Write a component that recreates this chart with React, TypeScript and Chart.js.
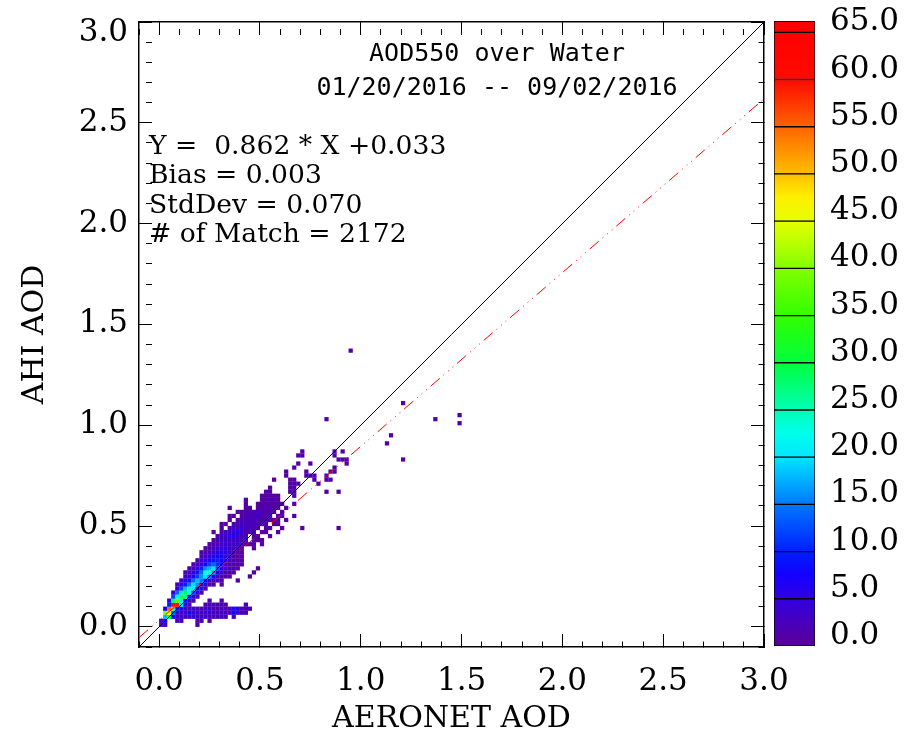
import React, { useEffect, useRef } from 'react';
import { Chart, registerables } from 'chart.js';
Chart.register(...registerables);

// ---------- data ----------
const X_MIN = -0.1;
const X_MAX = 3.0;
const Y_MIN = -0.1;
const Y_MAX = 3.0;
const BIN = 0.02;

// [AHI bin start, AERONET bin start of first cell, counts per consecutive 0.02 bin]
const HIST_ROWS: [number, number, number[]][] = [
  [0.00, 0.00, [2, 3, 0, 0, 0, 0, 0, 0, 0, 1]],
  [0.02, 0.00, [3, 6, 0, 0, 2, 2, 0, 0, 0, 1, 1, 0, 1]],
  [0.04, 0.02, [18, 30, 8, 3, 4, 2, 3, 5, 3, 4, 3, 2, 3, 2, 3, 2, 0, 2]],
  [0.06, 0.02, [40, 45, 14, 4, 3, 4, 8, 5, 4, 3, 5, 4, 3, 3, 2, 3, 2, 8, 3, 2, 2]],
  [0.08, 0.02, [8, 55, 25, 10, 6, 4, 3, 4, 3, 2, 3, 4, 2, 2, 3, 2, 3, 6, 7, 2, 3, 2]],
  [0.10, 0.04, [10, 63, 60, 20, 5, 2, 0, 0, 0, 2, 3, 2, 2, 2, 1, 0, 0, 0, 0, 2]],
  [0.12, 0.04, [6, 28, 38, 22, 8, 3, 2, 0, 0, 0, 2, 0, 0, 2]],
  [0.14, 0.06, [12, 22, 32, 25, 10, 4, 2]],
  [0.16, 0.06, [5, 14, 20, 30, 22, 12, 5, 2]],
  [0.18, 0.08, [6, 12, 18, 25, 20, 10, 4, 2]],
  [0.20, 0.08, [3, 6, 10, 15, 20, 16, 9, 4, 2, 1, 0, 1]],
  [0.22, 0.10, [3, 6, 9, 14, 18, 15, 9, 4, 2, 2, 1, 0, 0, 0, 1]],
  [0.24, 0.12, [3, 5, 8, 12, 16, 20, 14, 7, 3, 2, 1, 1, 0, 0, 0, 0, 1]],
  [0.26, 0.12, [2, 3, 5, 9, 14, 22, 24, 16, 8, 3, 2, 1, 1, 0, 0, 0, 0, 1]],
  [0.28, 0.14, [2, 3, 5, 10, 16, 18, 20, 12, 6, 3, 2, 2, 1, 0, 0, 0, 0, 1]],
  [0.30, 0.16, [2, 3, 5, 8, 12, 14, 11, 8, 4, 2, 1, 1, 1]],
  [0.32, 0.18, [2, 3, 5, 8, 9, 10, 8, 5, 3, 2, 1, 1]],
  [0.34, 0.20, [2, 3, 5, 6, 8, 7, 5, 3, 2, 1, 1]],
  [0.36, 0.20, [1, 2, 3, 4, 6, 6, 5, 4, 2, 1, 1]],
  [0.38, 0.22, [1, 2, 3, 4, 5, 5, 4, 3, 2, 1, 0, 0, 1]],
  [0.40, 0.24, [1, 2, 3, 3, 4, 4, 3, 3, 2, 2, 1, 1, 0, 1]],
  [0.42, 0.26, [1, 2, 3, 4, 3, 4, 3, 3, 2, 0, 1, 1, 1]],
  [0.44, 0.28, [2, 3, 4, 5, 6, 4, 3, 2, 0, 1, 1, 0, 0, 1]],
  [0.46, 0.26, [1, 0, 2, 3, 4, 5, 6, 4, 3, 2, 1, 0, 1, 1, 0, 0, 1]],
  [0.48, 0.30, [1, 0, 2, 3, 3, 4, 3, 2, 2, 1, 0, 1, 1, 0, 0, 1]],
  [0.48, 0.70, [1]],
  [0.48, 0.88, [1]],
  [0.50, 0.30, [1, 1, 0, 2, 2, 3, 3, 2, 3, 2, 1, 1, 0, 1, 1]],
  [0.52, 0.34, [1, 0, 1, 2, 2, 3, 2, 2, 1, 2, 1, 1, 1, 0, 1]],
  [0.54, 0.34, [1, 1, 0, 1, 2, 2, 2, 3, 2, 1, 1, 0, 1, 1, 0, 0, 1]],
  [0.56, 0.38, [1, 1, 1, 2, 2, 2, 2, 1, 2, 1, 0, 1]],
  [0.58, 0.34, [1, 0, 0, 0, 1, 1, 0, 1, 2, 1, 2, 1, 1, 0, 1]],
  [0.60, 0.42, [1, 0, 0, 1, 1, 2, 1, 1, 1, 1, 0, 0, 1]],
  [0.62, 0.42, [1, 0, 0, 0, 1, 1, 2, 1, 1]],
  [0.64, 0.50, [1, 1, 1, 1, 1, 0, 0, 0, 1]],
  [0.66, 0.52, [1, 1, 0, 0, 0, 0, 1, 1, 0, 0, 0, 0, 0, 0, 0, 1, 0, 0, 1]],
  [0.68, 0.54, [1, 0, 0, 0, 0, 1, 2]],
  [0.70, 0.64, [1, 1, 1, 0, 0, 0, 0, 1]],
  [0.72, 0.56, [1, 0, 0, 0, 1, 1, 0, 0, 0, 0, 1, 0, 0, 1, 1]],
  [0.74, 0.62, [1, 0, 0, 0, 0, 1, 1, 1, 0, 0, 1]],
  [0.76, 0.62, [1, 0, 0, 0, 0, 1, 0, 0, 0, 0, 0, 1, 1]],
  [0.78, 0.66, [1, 0, 0, 0, 0, 0, 0, 0, 0, 0, 1]],
  [0.80, 0.68, [1, 0, 0, 1, 0, 0, 0, 0, 0, 0, 0, 0, 1]],
  [0.82, 0.88, [1, 1, 1]],
  [0.82, 1.20, [1]],
  [0.84, 0.68, [1, 1, 0, 0, 0, 0, 0, 0, 0, 1]],
  [0.86, 0.70, [1, 0, 0, 0, 0, 0, 0, 0, 1, 0, 1]],
  [0.90, 1.12, [1]],
  [0.94, 1.14, [1]],
  [1.00, 1.48, [1]],
  [1.02, 0.82, [1]],
  [1.02, 1.36, [1]],
  [1.04, 1.48, [1]],
  [1.10, 1.20, [1]],
  [1.36, 0.94, [1]],
];

const FIT_SLOPE = 0.862;
const FIT_INTERCEPT = 0.033;
const TITLE_LINES = ['AOD550 over Water', '01/20/2016 -- 09/02/2016'];
const STAT_LINES = ['Y =  0.862 * X +0.033', 'Bias = 0.003', 'StdDev = 0.070', '# of Match = 2172'];
const X_TITLE = 'AERONET AOD';
const Y_TITLE = 'AHI AOD';
const CBAR_LEVELS = [0, 5, 10, 15, 20, 25, 30, 35, 40, 45, 50, 55, 60, 65];
const CBAR_MAX = 66.2;

// colour map stops (count -> rgb)
const CMAP: [number, number, number, number][] = [
  [0, 92, 0, 150],
  [5, 50, 0, 225],
  [7.5, 20, 0, 255],
  [10, 0, 30, 255],
  [15, 0, 120, 255],
  [20, 0, 230, 255],
  [22.5, 0, 255, 235],
  [25, 0, 255, 180],
  [30, 0, 255, 60],
  [35, 50, 255, 0],
  [40, 130, 255, 0],
  [45, 230, 255, 0],
  [47.5, 255, 240, 0],
  [50, 255, 190, 0],
  [55, 255, 100, 0],
  [60, 255, 10, 0],
  [65, 255, 0, 0],
  [70, 255, 0, 0],
];

function cmap(v: number): string {
  const t = Math.max(CMAP[0][0], Math.min(CMAP[CMAP.length - 1][0], v));
  for (let i = 0; i < CMAP.length - 1; i++) {
    const a = CMAP[i];
    const b = CMAP[i + 1];
    if (t >= a[0] && t <= b[0]) {
      const f = (t - a[0]) / (b[0] - a[0] || 1);
      const r = Math.round(a[1] + (b[1] - a[1]) * f);
      const g = Math.round(a[2] + (b[2] - a[2]) * f);
      const bl = Math.round(a[3] + (b[3] - a[3]) * f);
      return `rgb(${r},${g},${bl})`;
    }
  }
  return 'rgb(255,0,0)';
}

const isMajor = (v: number) => Math.abs(v * 2 - Math.round(v * 2)) < 1e-6 && v > -1e-6;

const TICK_FONT = { family: 'DejaVu Serif', size: 31 };
const Y_TICK_FONT = { family: 'DejaVu Serif', size: 31, lineHeight: 22 / 31 };
const TITLE_FONT = { family: 'DejaVu Serif', size: 30, lineHeight: 1 };

const zeroPad = (s: any) => {
  s.paddingTop = 0;
  s.paddingBottom = 0;
  s.paddingLeft = 0;
  s.paddingRight = 0;
};

const annotationPlugin = {
  id: 'annotations',
  afterDatasetsDraw(chart: any) {
    const { ctx, chartArea } = chart;
    ctx.save();
    ctx.fillStyle = '#000';
    ctx.textBaseline = 'middle';
    ctx.textAlign = 'center';
    ctx.font = '25px "DejaVu Sans Mono"';
    const cx = chartArea.left + 358;
    TITLE_LINES.forEach((t, i) => ctx.fillText(t, cx, chartArea.top + 32 + i * 34));
    ctx.textAlign = 'left';
    ctx.font = '26.6px "DejaVu Serif"';
    STAT_LINES.forEach((t, i) => ctx.fillText(t, chartArea.left + 10, chartArea.top + 125 + i * 29.5));
    ctx.restore();
  },
};

export default function App() {
  const mainRef = useRef<HTMLCanvasElement | null>(null);
  const barRef = useRef<HTMLCanvasElement | null>(null);

  useEffect(() => {
    const cells: { x: number; y: number; n: number }[] = [];
    HIST_ROWS.forEach(([y0, x0, counts]) => {
      counts.forEach((n, i) => {
        if (n > 0) cells.push({ x: x0 + i * BIN + BIN / 2, y: y0 + BIN / 2, n });
      });
    });

    const tickGrid = (len: number) => ({
      drawOnChartArea: false,
      drawTicks: true,
      tickLength: len,
      tickColor: '#000',
      tickWidth: 1,
      tickBorderDash: (c: any) => (c && c.tick && !isMajor(c.tick.value) ? [6, 40] : []),
    });
    const border = { display: true, color: '#000', width: 1.5 };

    const main = new Chart(mainRef.current as HTMLCanvasElement, {
      type: 'scatter',
      data: {
        datasets: [
          {
            data: [
              { x: X_MIN, y: Y_MIN },
              { x: X_MAX, y: Y_MAX },
            ],
            showLine: true,
            borderColor: '#000',
            borderWidth: 1,
            pointRadius: 0,
          },
          {
            data: [
              { x: X_MIN, y: FIT_SLOPE * X_MIN + FIT_INTERCEPT },
              { x: X_MAX, y: FIT_SLOPE * X_MAX + FIT_INTERCEPT },
            ],
            showLine: true,
            borderColor: '#ff0000',
            borderWidth: 1,
            borderDash: [12, 5, 1, 5, 1, 5, 1, 5],
            pointRadius: 0,
          },
          {
            data: cells.map((c) => ({ x: c.x, y: c.y })),
            backgroundColor: cells.map((c) => cmap(c.n)),
            borderWidth: 0,
            pointStyle: 'rect',
            pointRadius: (c: any) => {
              const s = c.chart.scales.x;
              if (!s) return 3;
              return Math.abs(s.getPixelForValue(BIN) - s.getPixelForValue(0)) / (2 * Math.SQRT1_2) + 0.15;
            },
            pointHoverRadius: 3,
          },
        ],
      },
      options: {
        responsive: false,
        animation: false,
        events: [],
        layout: { padding: 0 },
        plugins: { legend: { display: false }, tooltip: { enabled: false } },
        scales: {
          x: {
            type: 'linear',
            position: 'bottom',
            min: X_MIN,
            max: X_MAX,
            afterFit: (s: any) => {
              s.height = 87;
              zeroPad(s);
            },
            ticks: {
              stepSize: 0.1,
              autoSkip: false,
              maxRotation: 0,
              padding: 29,
              color: '#000',
              font: TICK_FONT,
              callback: (v: any) => (isMajor(Number(v)) ? Number(v).toFixed(1) : ''),
            },
            grid: tickGrid(-13),
            border,
            title: { display: true, text: X_TITLE, color: '#000', font: TITLE_FONT, padding: { top: 0, bottom: 0 } },
          },
          y: {
            type: 'linear',
            position: 'left',
            min: Y_MIN,
            max: Y_MAX,
            afterFit: (s: any) => {
              s.width = 139;
              zeroPad(s);
            },
            ticks: {
              stepSize: 0.1,
              autoSkip: false,
              padding: 24,
              color: '#000',
              font: Y_TICK_FONT,
              callback: (v: any) => {
                const n = Number(v);
                if (!isMajor(n)) return '';
                // the top label sits just inside the frame, below its tick
                return Math.abs(n - Y_MAX) < 1e-6 ? ['', n.toFixed(1)] : n.toFixed(1);
              },
            },
            grid: tickGrid(-13),
            border,
            title: { display: true, text: Y_TITLE, color: '#000', font: TITLE_FONT, padding: { top: 20, bottom: 0 } },
          },
          x2: {
            type: 'linear',
            position: 'top',
            min: X_MIN,
            max: X_MAX,
            afterFit: (s: any) => {
              s.height = 22;
              zeroPad(s);
            },
            ticks: { stepSize: 0.1, autoSkip: false, display: false },
            grid: tickGrid(-13),
            border,
          },
          y2: {
            type: 'linear',
            position: 'right',
            min: Y_MIN,
            max: Y_MAX,
            afterFit: (s: any) => {
              s.width = 142;
              zeroPad(s);
            },
            ticks: { stepSize: 0.1, autoSkip: false, display: false },
            grid: tickGrid(-13),
            border,
          },
        },
      } as any,
      plugins: [annotationPlugin],
    });

    const segs = CBAR_LEVELS.map((lo, i) => [lo, i < CBAR_LEVELS.length - 1 ? CBAR_LEVELS[i + 1] : CBAR_MAX]);
    const bar = new Chart(barRef.current as HTMLCanvasElement, {
      type: 'bar',
      data: {
        labels: [''],
        datasets: segs.map(([lo, hi]) => ({
          data: [[lo, hi]],
          grouped: false,
          barPercentage: 1,
          categoryPercentage: 1,
          borderColor: '#000',
          borderWidth: 1,
          borderSkipped: false,
          backgroundColor: (c: any) => {
            const ch = c.chart;
            const ys = ch.scales && ch.scales.y;
            if (!ys || !ch.chartArea) return cmap((lo + hi) / 2);
            const g = ch.ctx.createLinearGradient(0, ys.getPixelForValue(lo), 0, ys.getPixelForValue(hi));
            g.addColorStop(0, cmap(lo));
            g.addColorStop(0.5, cmap((lo + hi) / 2));
            g.addColorStop(1, cmap(hi));
            return g;
          },
        })),
      },
      options: {
        responsive: false,
        animation: false,
        events: [],
        layout: { padding: { left: 4, right: 0, top: 0, bottom: 0 } },
        plugins: { legend: { display: false }, tooltip: { enabled: false } },
        scales: {
          x: {
            position: 'bottom',
            afterFit: (s: any) => {
              s.height = 88;
              zeroPad(s);
            },
            ticks: { display: false },
            grid: { display: false },
            border: { display: false },
          },
          xTop: {
            position: 'top',
            type: 'category',
            labels: [''],
            afterFit: (s: any) => {
              s.height = 21;
              zeroPad(s);
            },
            ticks: { display: false },
            grid: { display: false },
            border: { display: false },
          },
          y: {
            position: 'right',
            min: 0,
            max: CBAR_MAX,
            afterFit: (s: any) => {
              s.width = 91;
              zeroPad(s);
            },
            grid: { display: false },
            border: { display: false },
            ticks: {
              stepSize: 5,
              includeBounds: false,
              padding: 7,
              labelOffset: -10,
              color: '#000',
              font: TICK_FONT,
              callback: (v: any) => (Math.abs(Number(v) / 5 - Math.round(Number(v) / 5)) < 1e-6 ? Number(v).toFixed(1) : ''),
            },
          },
        },
      } as any,
    });

    return () => {
      main.destroy();
      bar.destroy();
    };
  }, []);

  return (
    <div style={{ position: 'fixed', left: 0, top: 0, width: 906, height: 734, background: '#fff' }}>
      <canvas ref={mainRef} width={906} height={734} style={{ position: 'absolute', left: 0, top: 0 }} />
      <canvas ref={barRef} width={136} height={734} style={{ position: 'absolute', left: 770, top: 0 }} />
    </div>
  );
}
